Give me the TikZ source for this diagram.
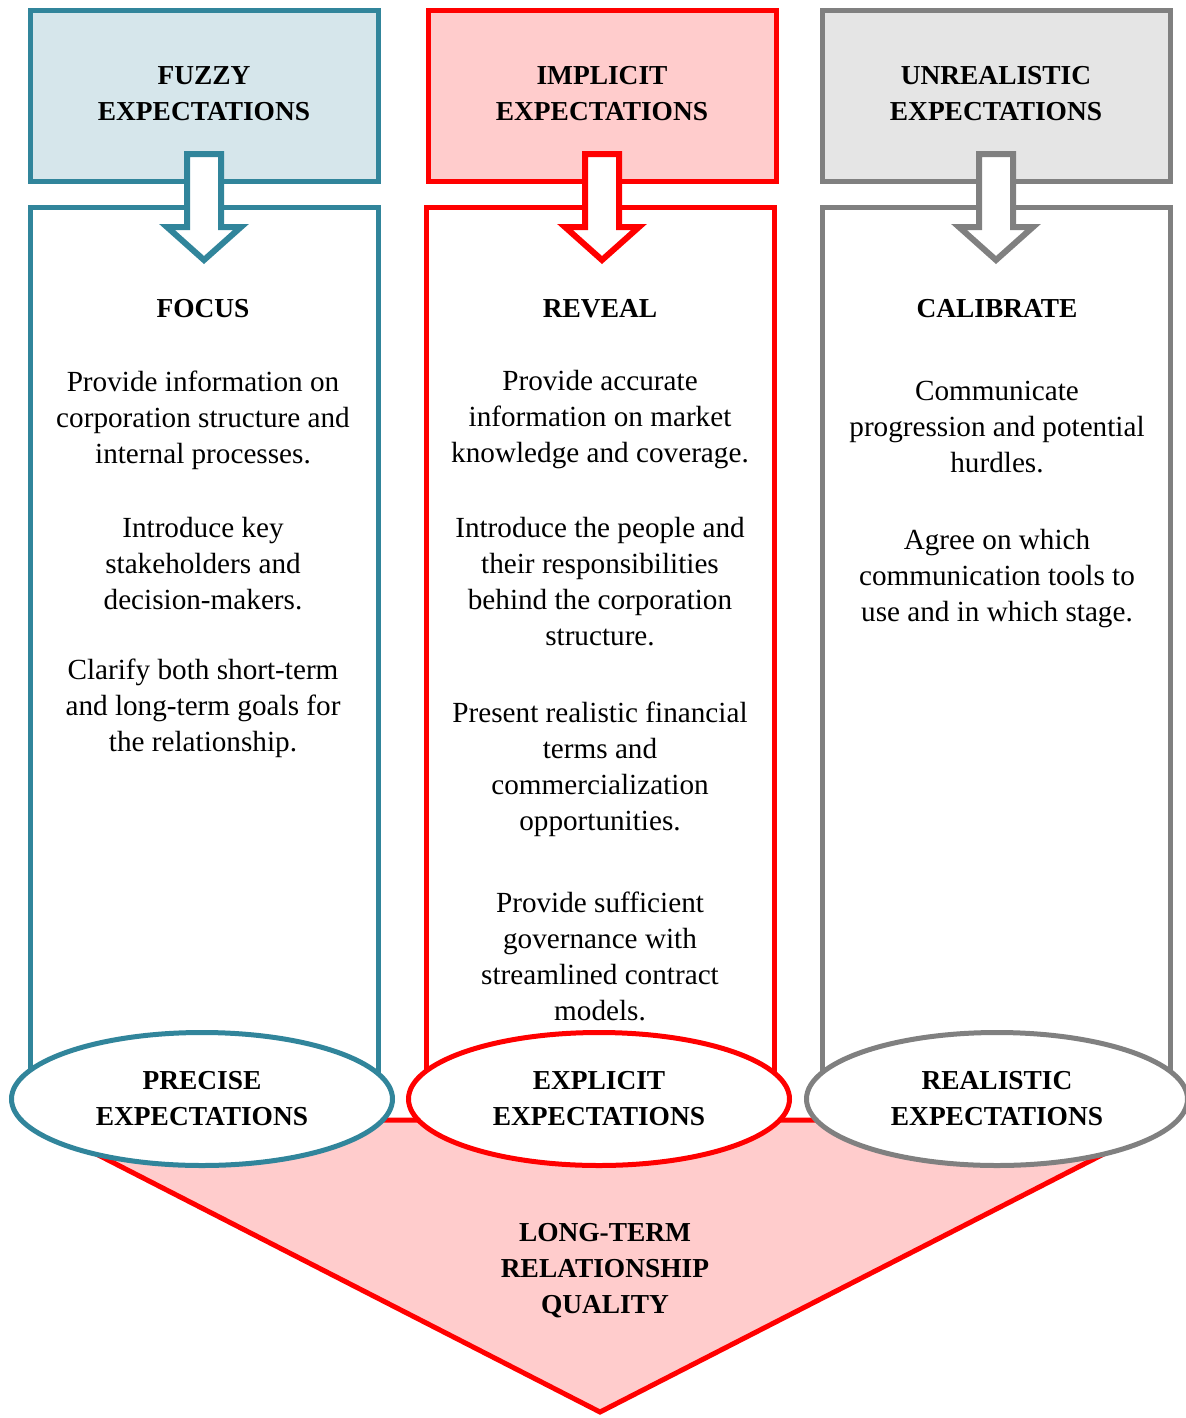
\documentclass[tikz,border=0pt]{standalone}
\usepackage{fontspec}
\setmainfont{Liberation Serif}
\usetikzlibrary{shapes.geometric}

\definecolor{tealline}{RGB}{49,133,155}
\definecolor{tealfill}{RGB}{214,230,235}
\definecolor{redline}{RGB}{255,0,0}
\definecolor{pinkfill}{RGB}{255,204,204}
\definecolor{greyline}{RGB}{128,128,128}
\definecolor{greyfill}{RGB}{229,229,229}

\tikzset{
  body/.style={align=center, inner sep=0pt, font=\fontsize{14.6}{18}\selectfont},
  head/.style={align=center, inner sep=0pt, font=\fontsize{13.7}{18}\selectfont\bfseries},
  topbox/.style={rectangle, line width=2.5pt, inner sep=0pt, minimum width=174pt, minimum height=85.5pt},
  column/.style={rectangle, line width=2.5pt, fill=white, inner sep=0pt, minimum width=174pt, minimum height=445pt},
  outcome/.style={ellipse, line width=2.5pt, fill=white, inner sep=0pt, minimum width=190.5pt, minimum height=66.5pt,
    align=center, font=\fontsize{13.7}{18}\selectfont\bfseries},
  blockarrow/.pic={
    \path[line width=3pt, fill=white, pic actions]
      (-17,0) -- (17,0) -- (17,73) -- (37,73) -- (0,106) -- (-37,73) -- (-17,73) -- cycle;
  }
}

\begin{document}
\begin{tikzpicture}[x=0.5pt, y=-0.5pt, line join=miter]
\useasboundingbox (0,0) rectangle (1185,1418);

% columns
\node[column, draw=tealline] (focuscol) at (204,652) {};
\node[column, draw=redline] (revealcol) at (600,652) {};
\node[column, draw=greyline] (calcol) at (996,652) {};

% starting points
\node[topbox, draw=tealline, fill=tealfill] (fuzzy) at (204,96) {};
\node[topbox, draw=redline, fill=pinkfill] (implicit) at (602,96) {};
\node[topbox, draw=greyline, fill=greyfill] (unreal) at (996,96) {};

\node[head] at ([yshift=1pt]fuzzy.center) {FUZZY\\EXPECTATIONS};
\node[head] at ([yshift=1pt]implicit.center) {IMPLICIT\\EXPECTATIONS};
\node[head] at ([yshift=1pt]unreal.center) {UNREALISTIC\\EXPECTATIONS};

% block arrows into the columns
\pic[draw=tealline] at ([yshift=15pt]fuzzy.south) {blockarrow};
\pic[draw=redline] at ([yshift=15pt]implicit.south) {blockarrow};
\pic[draw=greyline] at ([yshift=15pt]unreal.south) {blockarrow};

% column contents
\node[head] (focus) at (203,309) {FOCUS};
\node[body] (f1) at (203,420) {Provide information on\\corporation structure and\\internal processes.};
\node[body] (f2) at (203,564) {Introduce key\\stakeholders and\\decision-makers.};
\node[body] (f3) at (203,708) {Clarify both short-term\\and long-term goals for\\the relationship.};

\node[head] (reveal) at (600,309) {REVEAL};
\node[body] (r1) at (600,420) {Provide accurate\\information on market\\knowledge and coverage.};
\node[body] (r2) at (600,582) {Introduce the people and\\their responsibilities\\behind the corporation\\structure.};
\node[body] (r3) at (600,769) {Present realistic financial\\terms and\\commercialization\\opportunities.};
\node[body] (r4) at (600,956) {Provide sufficient\\governance with\\streamlined contract\\models.};

\node[head] (calibrate) at (997,309) {CALIBRATE};
\node[body] (c1) at (997,427) {Communicate\\progression and potential\\hurdles.};
\node[body] (c2) at (997,579) {Agree on which\\communication tools to\\use and in which stage.};

% shared outcome
\coordinate (qtl) at (30,1120);
\coordinate (qtr) at (1170,1120);
\coordinate (qtip) at (600,1412);
\draw[line width=2.5pt, draw=redline, fill=pinkfill] (qtl) -- (qtr) -- (qtip) -- cycle;
\node[head] (quality) at (605,1271) {LONG-TERM\\RELATIONSHIP\\QUALITY};

% outcomes of each column
\node[outcome, draw=tealline] (precise) at (202,1099) {PRECISE\\EXPECTATIONS};
\node[outcome, draw=redline] (explicit) at (599,1099) {EXPLICIT\\EXPECTATIONS};
\node[outcome, draw=greyline] (realistic) at (997,1099) {REALISTIC\\EXPECTATIONS};
\end{tikzpicture}
\end{document}
